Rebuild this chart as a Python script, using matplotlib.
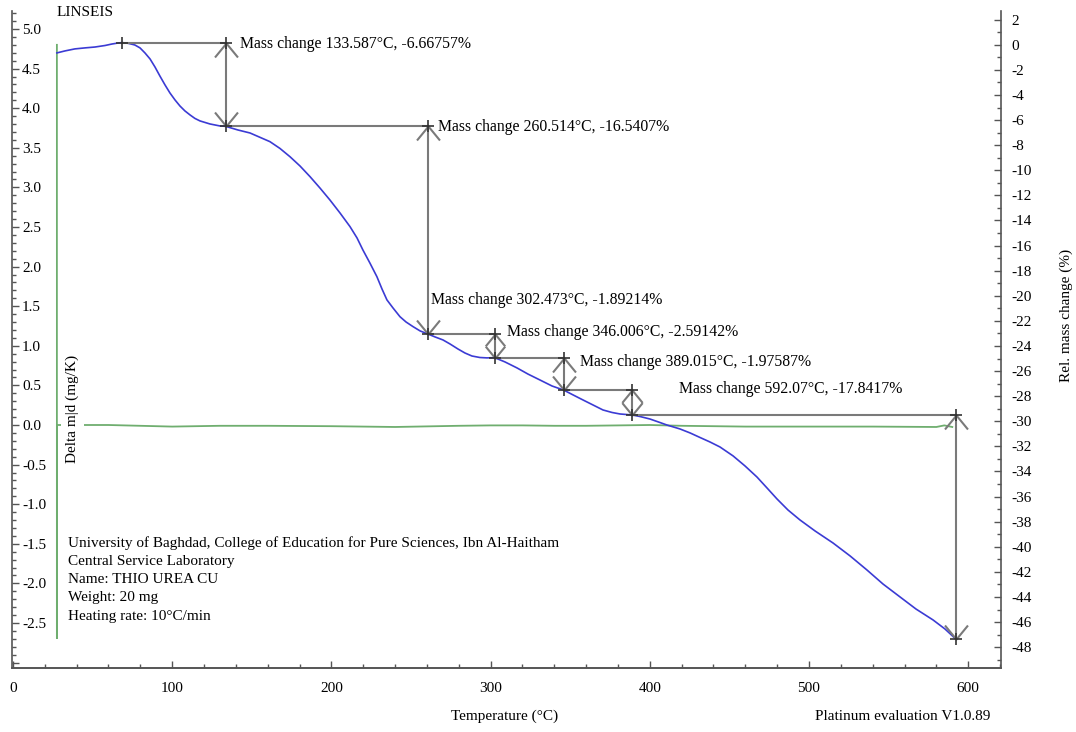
import matplotlib.pyplot as plt
from matplotlib.path import Path
from matplotlib.ticker import MultipleLocator, FuncFormatter

plt.rcParams['font.family'] = ['Liberation Serif', 'DejaVu Serif']
plt.rcParams['font.size'] = 11
plt.rcParams['axes.unicode_minus'] = False

# TG curve: relative mass change (%) vs temperature (degC)
tg_temp = [27.6, 32.7, 38.9, 45.2, 51.5, 57.8, 62.2, 66.0, 68.5, 72.2, 75.4,
           76.6, 79.8, 82.9, 86.1, 89.2, 92.3, 95.5, 98.6, 101.8, 104.9,
           108.0, 111.2, 114.3, 117.5, 123.7, 130.0, 133.6, 141.3, 148.9,
           161.4, 167.7, 174.0, 180.3, 186.6, 192.8, 199.1, 205.4, 211.7,
           216.1, 219.8, 224.2, 228.6, 231.8, 234.9, 238.7, 243.1, 246.9,
           251.3, 255.7, 260.5, 265.1, 270.1, 274.5, 279.5, 283.9, 288.3,
           293.3, 297.7, 302.5, 309.0, 316.6, 323.5, 331.0, 338.6, 346.0,
           351.8, 358.0, 364.3, 370.6, 376.3, 381.3, 389.0, 393.8, 400.1,
           406.4, 410.8, 418.9, 425.3, 431.5, 437.8, 444.1, 452.3, 459.8,
           467.3, 473.6, 479.9, 486.8, 494.3, 503.8, 515.1, 525.8, 536.4,
           546.5, 557.2, 567.2, 577.9, 585.4, 592.1]
tg_mass = [-0.65, -0.49, -0.33, -0.25, -0.18, -0.06, 0.06, 0.14, 0.17, 0.12,
           0.02, -0.02, -0.25, -0.65, -1.13, -1.77, -2.49, -3.20, -3.84,
           -4.40, -4.88, -5.27, -5.59, -5.87, -6.07, -6.31, -6.47, -6.50,
           -6.79, -7.03, -7.72, -8.26, -8.92, -9.66, -10.51, -11.41, -12.37,
           -13.40, -14.49, -15.39, -16.35, -17.39, -18.48, -19.46, -20.33,
           -20.97, -21.67, -22.09, -22.46, -22.80, -23.04, -23.28, -23.52,
           -23.84, -24.24, -24.56, -24.80, -24.92, -24.95, -24.93, -25.27,
           -25.75, -26.24, -26.71, -27.19, -27.52, -27.90, -28.30, -28.70,
           -29.10, -29.30, -29.42, -29.50, -29.62, -29.82, -30.10, -30.30,
           -30.61, -30.93, -31.29, -31.65, -32.05, -32.76, -33.56, -34.44,
           -35.31, -36.19, -37.07, -37.86, -38.74, -39.70, -40.73, -41.85,
           -42.97, -44.00, -44.96, -45.83, -46.55, -47.34]

# DTG curve (mg/K)
dtg_temp = [27.6, 27.6, 27.6, 40, 60, 80, 100, 130, 160, 200, 240, 280, 300,
            320, 340, 360, 380, 400, 420, 460, 500, 540, 580, 585, 590]
dtg_val = [4.80, -2.69, 0.0, 0.0, 0.0, -0.01, -0.02, -0.01, -0.01, -0.015,
           -0.025, -0.01, -0.005, -0.005, -0.01, -0.01, -0.005, 0.0, -0.01,
           -0.02, -0.02, -0.02, -0.025, -0.005, -0.025]

# mass change evaluation steps
start_temp = 68.5
start_mass = 0.17
step_temp = [133.587, 260.514, 302.473, 346.006, 389.015, 592.07]
step_change = [-6.66757, -16.5407, -1.89214, -2.59142, -1.97587, -17.8417]
step_label_pos = [(142.6, 0.06), (267.0, -6.55), (262.6, -20.33),
                  (310.3, -22.88), (356.2, -25.27), (418.3, -27.42)]

info_lines = ['University of Baghdad, College of Education for Pure Sciences, Ibn Al-Haitham',
              'Central Service Laboratory',
              'Name: THIO UREA CU',
              'Weight: 20 mg',
              'Heating rate: 10°C/min']

W, H = 1076, 732
BLUE = '#3b3bd4'
GREEN = '#6fae6f'
GRAY = '#7a7a7a'
AXC = '#555555'


def px(x, y):
    return x / W, 1 - y / H


def chevron(up):
    s = -1 if up else 1
    return Path([(-0.82, s), (0, 0), (0.82, s)],
                [Path.MOVETO, Path.LINETO, Path.LINETO])


fig = plt.figure(figsize=(W / 100, H / 100), dpi=100)
ax = fig.add_axes([12 / W, 1 - 668 / H, (1001 - 12) / W, (668 - 11) / H])
ax2 = ax.twinx()

ax.set_xlim(-0.6, 620.6)
ax.set_ylim(-3.068, 5.227)
ax2.set_ylim(-49.66, 2.69)

for a in (ax, ax2):
    a.spines['top'].set_visible(False)
    for s in a.spines.values():
        s.set_color(AXC)
        s.set_linewidth(1.2)
ax.spines['right'].set_visible(False)
ax2.spines['left'].set_visible(False)

ax.xaxis.set_major_locator(MultipleLocator(100))
ax.xaxis.set_minor_locator(MultipleLocator(20))
ax.yaxis.set_major_locator(MultipleLocator(0.5))
ax.yaxis.set_minor_locator(MultipleLocator(0.1))
ax.yaxis.set_major_formatter(
    FuncFormatter(lambda v, pos: '%.1f' % v if v > -2.75 else ''))
ax2.yaxis.set_major_locator(MultipleLocator(2))
ax2.yaxis.set_minor_locator(MultipleLocator(1))

ax.tick_params(axis='x', which='both', direction='in', colors=AXC,
               labelcolor='black', labelsize=11, pad=10)
ax.tick_params(axis='y', which='both', direction='in', colors=AXC,
               labelcolor='black', labelsize=11, pad=-7.2)
ax2.tick_params(axis='y', which='both', direction='in', colors=AXC,
                labelcolor='black', labelsize=11, pad=7.2)
for a in (ax, ax2):
    a.tick_params(which='major', length=5, width=1)
    a.tick_params(which='minor', length=3, width=1)
for t in ax.yaxis.get_major_ticks():
    t.label1.set_horizontalalignment('left')

# DTG and TG curves
ax.plot(dtg_temp, dtg_val, color=GREEN, lw=1.3, zorder=2)
ax2.plot(tg_temp, tg_mass, color=BLUE, lw=1.2, zorder=2)

# step evaluation: horizontal leaders and double arrows
prev_t, prev_m = start_temp, start_mass
ax2.plot(prev_t, prev_m, marker='+', ms=9, mew=1.2, color='#333333', zorder=4)
for t, dm, (lx, ly) in zip(step_temp, step_change, step_label_pos):
    new_m = prev_m + dm
    ax2.plot([prev_t, t], [prev_m, prev_m], color=GRAY, lw=1.5, zorder=3)
    ax2.plot([t, t], [prev_m, new_m], color=GRAY, lw=1.5, zorder=3)
    y_top = ax2.transData.transform((t, prev_m))[1]
    y_bot = ax2.transData.transform((t, new_m))[1]
    head = min(14, (y_top - y_bot) / 2)
    ms = 2 * head * 0.72
    ax2.plot(t, prev_m, marker=chevron(True), ms=ms, mfc='none', mec=GRAY,
             mew=1.5, ls='none', zorder=3)
    ax2.plot(t, new_m, marker=chevron(False), ms=ms, mfc='none', mec=GRAY,
             mew=1.5, ls='none', zorder=3)
    ax2.plot([t, t], [prev_m, new_m], marker='+', ms=9, mew=1.2,
             color='#333333', ls='none', zorder=4)
    ax2.text(lx, ly, 'Mass change {}°C, {}%'.format(t, dm), va='center',
             ha='left', fontsize=11.3, zorder=5)
    prev_t, prev_m = t, new_m

# y label sits inside the plot on a white box, hiding the DTG baseline
ax.text(37.5, 0.2, 'Delta m|d (mg/K)', rotation=90, ha='center', va='center',
        fontsize=11, zorder=5,
        bbox=dict(boxstyle='square,pad=0.3', facecolor='white', edgecolor='none'))

fig.text(*px(57, 12), 'LINSEIS', ha='left', va='center', fontsize=11)
for i, line in enumerate(info_lines):
    fig.text(*px(68, 543 + 18.3 * i), line, ha='left', va='center', fontsize=11)
fig.text(*px(505, 716), 'Temperature (°C)', ha='center', va='center', fontsize=11)
fig.text(*px(903, 716), 'Platinum evaluation V1.0.89', ha='center',
         va='center', fontsize=11)
fig.text(*px(1066, 315), 'Rel. mass change (%)', rotation=90, ha='center',
         va='center', fontsize=11)

fig.savefig('out.png', dpi=100)
